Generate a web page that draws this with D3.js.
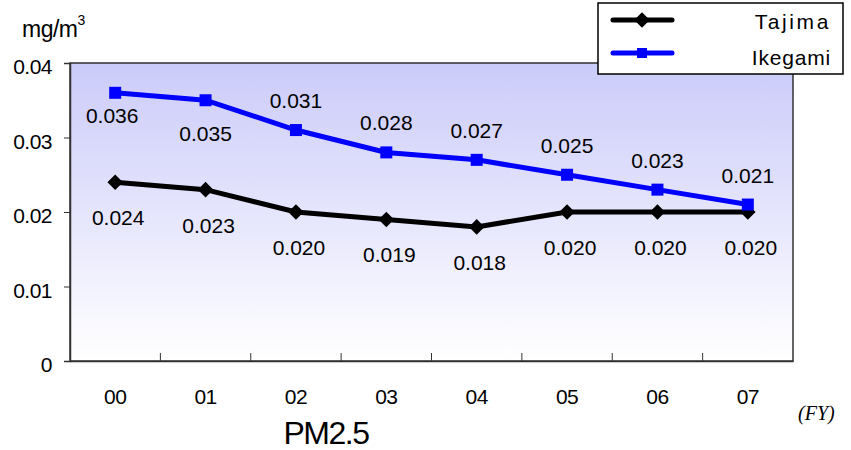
<!DOCTYPE html>
<html><head><meta charset="utf-8">
<script src="https://cdn.jsdelivr.net/npm/d3@7"></script>
<style>body{margin:0;background:#fff}svg{display:block}</style>
</head><body><svg id="c" width="851" height="450"></svg>
<script>
const categories = ["00","01","02","03","04","05","06","07"];
const tajima = [0.024,0.023,0.020,0.019,0.018,0.020,0.020,0.020];
const ikegami = [0.036,0.035,0.031,0.028,0.027,0.025,0.023,0.021];
const yTicks = [0,0.01,0.02,0.03,0.04];
const yTickLabels = ["0","0.01","0.02","0.03","0.04"];
const ikegamiLabelSide = ["below","below","above","above","above","above","above","above"];

const SANS = "'Liberation Sans', Arial, sans-serif";
const svg = d3.select("#c").style("font-family", SANS);
const m = {l:70, r:793, t:63, b:361};
const x = d3.scaleBand().domain(categories).range([m.l, m.r]);
const y = d3.scaleLinear().domain([0,0.04]).range([m.b, m.t]);

const defs = svg.append("defs");
const g = defs.append("linearGradient").attr("id","bg").attr("x1",0).attr("x2",0).attr("y1",0).attr("y2",1);
g.append("stop").attr("offset","0%").attr("stop-color","#cbcbfa");
g.append("stop").attr("offset","100%").attr("stop-color","#ffffff");

svg.append("rect").attr("x",m.l).attr("y",m.t).attr("width",m.r-m.l).attr("height",m.b-m.t)
  .attr("fill","url(#bg)").attr("stroke","#333").attr("stroke-width",1.5);

// y axis
const yAxis = svg.append("g").attr("transform",`translate(${m.l},0)`)
  .call(d3.axisLeft(y).tickValues(yTicks).tickSize(6).tickFormat((d,i)=>yTickLabels[i]));
yAxis.attr("font-family", null);
yAxis.select(".domain").attr("stroke","#333").attr("stroke-width",1.5);
yAxis.selectAll(".tick line").attr("stroke","#333");
yAxis.selectAll(".tick text").attr("x",-18).attr("dy","0.5em").attr("font-size",21).attr("letter-spacing","-0.5px")
  .attr("fill","#000");

// x axis with inner ticks at band boundaries
const xAxis = svg.append("g").attr("transform",`translate(0,${m.b})`)
  .call(d3.axisBottom(x).tickSize(0).tickPadding(28));
xAxis.attr("font-family", null);
xAxis.select(".domain").attr("stroke","#333").attr("stroke-width",1.5);
xAxis.selectAll(".tick text").attr("font-size",21).attr("letter-spacing","-0.5px").attr("fill","#000");
svg.append("g").selectAll("line").data(categories.slice(1)).join("line")
  .attr("x1",d=>x(d)).attr("x2",d=>x(d)).attr("y1",m.b).attr("y2",m.b-8)
  .attr("stroke","#333").attr("stroke-width",1);

const cx = d => x(d) + x.bandwidth()/2;
const line = d3.line().x((d,i)=>cx(categories[i])).y(d=>y(d));

// Tajima
svg.append("path").datum(tajima).attr("d",line).attr("fill","none").attr("stroke","#000").attr("stroke-width",5);
svg.append("g").selectAll("rect").data(tajima).join("rect")
  .attr("x",-5.5).attr("y",-5.5).attr("width",11).attr("height",11)
  .attr("transform",(d,i)=>`translate(${cx(categories[i])},${y(d)}) rotate(45)`).attr("fill","#000");
// Ikegami
svg.append("path").datum(ikegami).attr("d",line).attr("fill","none").attr("stroke","#0000ff").attr("stroke-width",5);
svg.append("g").selectAll("rect").data(ikegami).join("rect")
  .attr("x",(d,i)=>cx(categories[i])-6).attr("y",d=>y(d)-6).attr("width",12).attr("height",12).attr("fill","#0000ff");

const fmt = d3.format(".3f");
const lblStyle = s => s.attr("font-size",21).attr("letter-spacing","0px").attr("text-anchor","middle").attr("fill","#000");
svg.append("g").selectAll("text").data(tajima).join("text")
  .attr("x",(d,i)=>cx(categories[i])+3).attr("y",d=>y(d)+43).text(d=>fmt(d)).call(lblStyle);
svg.append("g").selectAll("text").data(ikegami).join("text")
  .attr("x",(d,i)=>cx(categories[i])+(i===0?-3:0))
  .attr("y",(d,i)=>ikegamiLabelSide[i]==="above" ? y(d)-22 : y(d)+(i===0?30:41))
  .text(d=>fmt(d)).call(lblStyle);

// unit
const u = svg.append("text").attr("x",22).attr("y",37).attr("font-size",23).attr("letter-spacing","-0.5px");
u.append("tspan").text("mg/m");
u.append("tspan").attr("dy",-12).attr("font-size",14).text("3");

// title
svg.append("text").attr("x",326).attr("y",444).attr("text-anchor","middle").attr("font-size",32)
  .attr("letter-spacing","-1.5px").text("PM2.5");
svg.append("text").attr("x",798).attr("y",420).attr("font-size",20)
  .style("font-style","italic").style("font-family","'Liberation Serif', 'Times New Roman', serif").text("(FY)");

// legend
const lg = svg.append("g");
lg.append("rect").attr("x",598).attr("y",3).attr("width",245).attr("height",71).attr("fill","#fff").attr("stroke","#000").attr("stroke-width",1.5);
const legend = [{name:"Tajima",color:"#000",sym:"diamond",ls:2.6},{name:"Ikegami",color:"#0000ff",sym:"square",ls:0.8}];
legend.forEach((s,i)=>{
  const yy = 20 + i*33;
  lg.append("line").attr("x1",613).attr("x2",672).attr("y1",yy).attr("y2",yy).attr("stroke",s.color).attr("stroke-width",5).attr("stroke-linecap","round");
  if(s.sym==="diamond") lg.append("rect").attr("x",-5.5).attr("y",-5.5).attr("width",11).attr("height",11).attr("fill",s.color).attr("transform",`translate(642,${yy}) rotate(45)`);
  else lg.append("rect").attr("x",637).attr("y",yy-5).attr("width",10).attr("height",10).attr("fill",s.color);
  lg.append("text").attr("x",831).attr("y",yy+ (i===0?9:12)).attr("text-anchor","end").attr("font-size",21).attr("letter-spacing",s.ls+"px").text(s.name);
});
</script></body></html>
